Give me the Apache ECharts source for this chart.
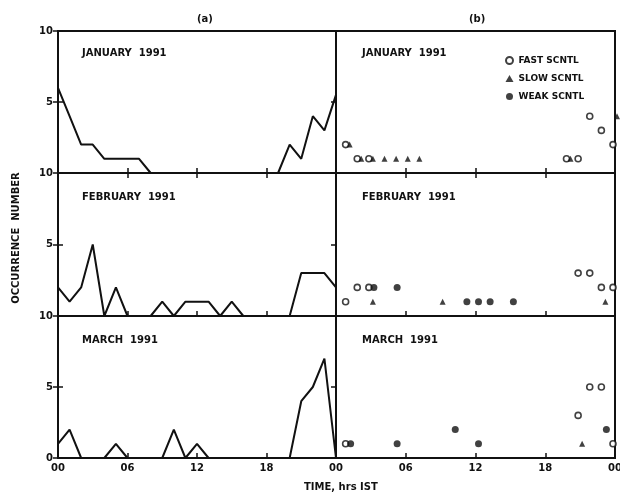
<!DOCTYPE html>
<html>
<head>
<meta charset="utf-8">
<script src="https://cdn.jsdelivr.net/npm/echarts@6/dist/echarts.min.js"></script>
<style>
  html, body { margin: 0; padding: 0; background: #fff; }
  #chart { width: 620px; height: 500px; }
</style>
</head>
<body>
<div id="chart"></div>
<script>
// hours of the day, 00 .. 24
var hours = [0,1,2,3,4,5,6,7,8,9,10,11,12,13,14,15,16,17,18,19,20,21,22,23,24];
var months = ['JANUARY  1991', 'FEBRUARY  1991', 'MARCH  1991'];
var xTicks = ['00', '06', '12', '18', '00'];

// (a) total occurrences per hour
var janTotal = [6,4,2,2,1,1,1,1,0,0,0,0,0,0,0,0,0,0,0,0,2,1,4,3,5.5];
var febTotal = [2,1,2,5,0,2,0,0,0,1,0,1,1,1,0,1,0,0,0,0,0,3,3,3,2];
var marTotal = [1,2,0,0,0,1,0,0,0,0,2,0,1,0,0,0,0,0,0,0,0,4,5,7,0];

// (b) occurrences by type, [hour, count]
var janFast = [[1,2],[2,1],[3,1],[20,1],[21,1],[22,4],[23,3],[24,2]];
var janSlow = [[1,2],[2,1],[3,1],[4,1],[5,1],[6,1],[7,1],[20,1],[24,4]];
var janWeak = [];
var febFast = [[1,1],[2,2],[3,2],[21,3],[22,3],[23,2],[24,2]];
var febSlow = [[3,1],[9,1],[23,1]];
var febWeak = [[3,2],[5,2],[11,1],[12,1],[13,1],[15,1]];
var marFast = [[1,1],[21,3],[22,5],[23,5],[24,1]];
var marSlow = [[21,1]];
var marWeak = [[1,1],[5,1],[10,2],[12,1],[23,2]];

var totals = [janTotal, febTotal, marTotal];
var fast = [janFast, febFast, marFast];
var slow = [janSlow, febSlow, marSlow];
var weak = [janWeak, febWeak, marWeak];

var chart = echarts.init(document.getElementById('chart'), null, {renderer: 'canvas'});
var font = 'DejaVu Sans';
var rowTop = [31, 173, 316];
var rowH = [142, 143, 142];
var colLeft = [58, 336];
var colW = [278, 279];

var grids = [], xAxes = [], yAxes = [], series = [], texts = [];
for (var r = 0; r < 3; r++) {
    for (var c = 0; c < 2; c++) {
        var g = r * 2 + c;
        grids.push({
            left: colLeft[c], top: rowTop[r], width: colW[c], height: rowH[r],
            outerBoundsMode: 'none', containLabel: false,
            show: true, borderColor: '#111', borderWidth: 2, backgroundColor: 'transparent'
        });
        //bottom time axis
        xAxes.push({
            type: 'value', gridIndex: g, min: 0, max: 24, interval: 6, position: 'bottom',
            axisLine: {show: false}, splitLine: {show: false},
            axisTick: {show: true, inside: true, length: 5, lineStyle: {color: '#111', width: 1.5}},
            axisLabel: {
                show: r === 2, showMinLabel: c === 0, margin: 5,
                color: '#111', fontFamily: font, fontWeight: 'bold', fontSize: 10,
                formatter: function (v) { return xTicks[v / 6]; }
            }
        });
        //top ticks only on the first row
        xAxes.push({
            type: 'value', gridIndex: g, min: 0, max: 24, interval: 6, position: 'top',
            axisLine: {show: false}, splitLine: {show: false}, axisLabel: {show: false},
            axisTick: {show: r === 0, inside: true, length: 5, lineStyle: {color: '#111', width: 1.5}}
        });
        (function (row, col) {
            yAxes.push({
                type: 'value', gridIndex: g, min: 0, max: 10, interval: 5, position: 'left',
                axisLine: {show: false}, splitLine: {show: false},
                axisTick: {show: col === 0, inside: true, length: 5, lineStyle: {color: '#111', width: 1.5}},
                axisLabel: {
                    show: col === 0, margin: 5,
                    color: '#111', fontFamily: font, fontWeight: 'bold', fontSize: 10,
                    formatter: function (v) { return (v === 0 && row < 2) ? '' : String(v); }
                }
            });
        })(r, c);
        yAxes.push({
            type: 'value', gridIndex: g, min: 0, max: 10, interval: 5, position: 'right',
            axisLine: {show: false}, splitLine: {show: false}, axisLabel: {show: false},
            axisTick: {show: true, inside: true, length: 5, lineStyle: {color: '#111', width: 1.5}}
        });

        if (c === 0) {
            var pts = [];
            for (var i = 0; i < hours.length; i++) pts.push([hours[i], totals[r][i]]);
            series.push({
                type: 'line', xAxisIndex: 2 * g, yAxisIndex: 2 * g, data: pts,
                showSymbol: false, symbol: 'none', animation: false,
                lineStyle: {color: '#111', width: 2}
            });
        } else {
            series.push({
                name: 'FAST SCNTL', type: 'scatter', xAxisIndex: 2 * g, yAxisIndex: 2 * g,
                data: fast[r], symbol: 'circle', symbolSize: 6, symbolOffset: [-2, 0],
                itemStyle: {color: '#fff', borderColor: '#111', borderWidth: 1.6}, animation: false
            });
            series.push({
                name: 'SLOW SCNTL', type: 'scatter', xAxisIndex: 2 * g, yAxisIndex: 2 * g,
                data: slow[r], symbol: 'triangle', symbolSize: 6, symbolOffset: [2, 0],
                itemStyle: {color: '#111'}, animation: false
            });
            series.push({
                name: 'WEAK SCNTL', type: 'scatter', xAxisIndex: 2 * g, yAxisIndex: 2 * g,
                data: weak[r], symbol: 'circle', symbolSize: 7, symbolOffset: [3, 0],
                itemStyle: {color: '#111'}, animation: false
            });
        }

        texts.push({
            type: 'text', left: colLeft[c] + (c === 0 ? 24 : 26), top: rowTop[r] + (r === 0 ? 17 : 19),
            style: {text: months[r], fill: '#111', font: 'bold 10px ' + font}
        });
    }
}

texts.push({type: 'text', left: 197, top: 14, style: {text: '(a)', fill: '#111', font: 'bold 10px ' + font}});
texts.push({type: 'text', left: 469, top: 14, style: {text: '(b)', fill: '#111', font: 'bold 10px ' + font}});
texts.push({type: 'text', left: 304, top: 482, style: {text: 'TIME, hrs IST', fill: '#111', font: 'bold 10px ' + font}});
texts.push({
    type: 'text', x: 16, y: 238, rotation: Math.PI / 2,
    style: {text: 'OCCURRENCE  NUMBER', fill: '#111', font: 'bold 10px ' + font, align: 'center', verticalAlign: 'middle'}
});

var option = {
    backgroundColor: '#fff',
    animation: false,
    grid: grids,
    xAxis: xAxes,
    yAxis: yAxes,
    legend: {
        data: ['FAST SCNTL', 'SLOW SCNTL', 'WEAK SCNTL'],
        orient: 'vertical', left: 500, top: 51, itemGap: 9, itemWidth: 8, itemHeight: 7,
        textStyle: {color: '#111', fontFamily: font, fontWeight: 'bold', fontSize: 9}
    },
    graphic: texts,
    series: series
};
chart.setOption(option);
</script>
</body>
</html>
